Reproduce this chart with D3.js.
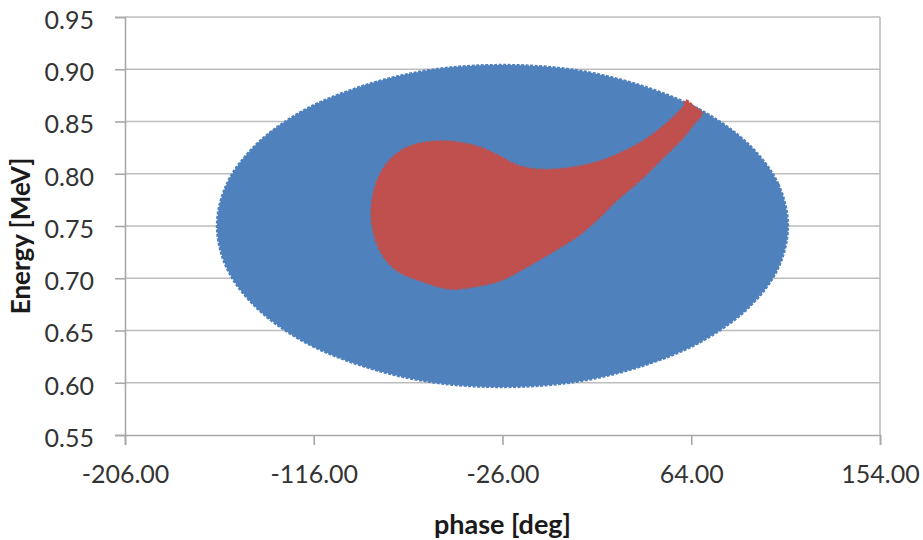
<!DOCTYPE html>
<html><head><meta charset="utf-8">
<script src="https://cdn.jsdelivr.net/npm/d3@7"></script>
<style>body{margin:0;background:#fff} svg{display:block}</style>
</head><body><svg id="c" width="923" height="540"></svg>
<script>
// Tick values
const xTicks = [-206, -116, -26, 64, 154];
const yTicks = [0.55, 0.60, 0.65, 0.70, 0.75, 0.80, 0.85, 0.90, 0.95];

// Outline of the blue particle cloud (phase [deg], energy [MeV])
const bluePhase  = [110.1,105.5,91.9,70.2,42.1,9.2,-26.0,-61.2,-94.1,-122.2,-143.9,-157.5,-162.1,-157.5,-143.9,-122.2,-94.1,-61.2,-26.0,9.2,42.1,70.2,91.9,105.5];
const blueEnergy = [0.750,0.790,0.827,0.859,0.883,0.899,0.904,0.899,0.883,0.859,0.827,0.790,0.750,0.710,0.673,0.641,0.617,0.601,0.596,0.601,0.617,0.641,0.673,0.710];

// Outline of the red (captured) region
const redPhase  = [-88.4,-86.0,-79.6,-70.1,-54.2,-38.3,-28.8,-19.2,-9.7,4.6,17.3,28.5,41.1,52.3,60.2,61.5,65.3,69.0,64.8,60.2,50.7,39.6,28.5,18.9,9.4,-3.4,-14.5,-27.2,-39.9,-51.0,-63.8,-76.5,-84.4];
const redEnergy = [0.759,0.791,0.813,0.826,0.831,0.826,0.818,0.808,0.804,0.805,0.810,0.818,0.831,0.848,0.864,0.870,0.864,0.858,0.847,0.835,0.816,0.794,0.775,0.756,0.740,0.724,0.711,0.698,0.692,0.690,0.697,0.708,0.727];

const svg = d3.select("#c");
const x = d3.scaleLinear().domain([-206, 154]).range([125, 880]);
const y = d3.scaleLinear().domain([0.55, 0.95]).range([435, 17]);
const font = "Lato, 'Open Sans', sans-serif";
const grid = "#bdbdbd";
const fmt = d3.formatLocale({decimal: ".", thousands: ",", grouping: [3], currency: ["", ""], minus: "-"}).format(".2f");

// gridlines
svg.append("g").selectAll("line").data(yTicks.slice(1)).join("line")
  .attr("x1", x(-206)).attr("x2", x(154))
  .attr("y1", d => y(d)).attr("y2", d => y(d))
  .attr("stroke", grid).attr("stroke-width", 1.6);
// right border
svg.append("line").attr("x1", x(154)).attr("x2", x(154)).attr("y1", y(0.95)).attr("y2", y(0.55))
  .attr("stroke", grid).attr("stroke-width", 1.6);

const line = d3.line().x(d => x(d[0])).y(d => y(d[1])).curve(d3.curveCatmullRomClosed.alpha(0.5));
const blue = bluePhase.map((p, i) => [p, blueEnergy[i]]);
const red = redPhase.map((p, i) => [p, redEnergy[i]]);

svg.append("path").attr("d", line(blue)).attr("fill", "#4f81bd")
  .attr("stroke", "#4f81bd").attr("stroke-width", 2.5).attr("stroke-dasharray", "3,1.5");
svg.append("path").attr("d", line(red)).attr("fill", "#c0504d")
  .attr("stroke", "#c0504d").attr("stroke-width", 2.5).attr("stroke-dasharray", "3,1.5");

// axes
const yAxis = svg.append("g").attr("transform", `translate(${x(-206)},0)`)
  .call(d3.axisLeft(y).tickValues(yTicks).tickFormat(fmt).tickSize(10).tickPadding(21));
const xAxis = svg.append("g").attr("transform", `translate(0,${y(0.55)})`)
  .call(d3.axisBottom(x).tickValues(xTicks).tickFormat(fmt).tickSize(10).tickPadding(20));
[yAxis, xAxis].forEach(a => {
  a.select(".domain").attr("stroke", "#a8a8a8").attr("stroke-width", 1.6);
  a.selectAll(".tick line").attr("stroke", "#a8a8a8").attr("stroke-width", 1.6);
  a.selectAll("text").attr("font-family", font).attr("font-size", 25).attr("fill", "#333");
});
yAxis.selectAll("text").attr("dy", "0.45em");

// titles
svg.append("text").attr("x", 502.5).attr("y", 534).attr("text-anchor", "middle")
  .attr("font-family", font).attr("font-weight", "bold").attr("font-size", 27).attr("fill", "#1a1a1a")
  .text("phase [deg]");
svg.append("text").attr("transform", "translate(30,236) rotate(-90)").attr("text-anchor", "middle")
  .attr("font-family", font).attr("font-weight", "bold").attr("font-size", 26).attr("fill", "#1a1a1a")
  .text("Energy [MeV]");
</script></body></html>
